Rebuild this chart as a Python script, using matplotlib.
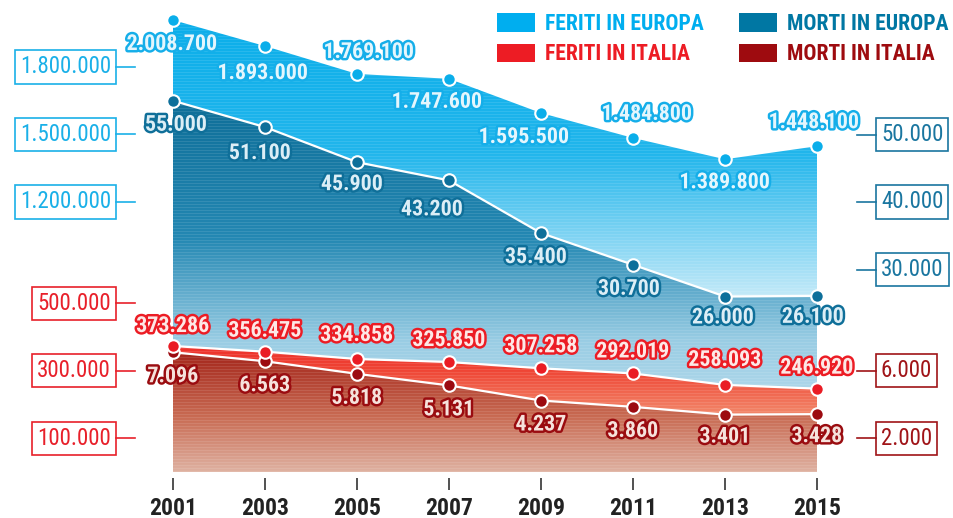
import numpy as np
import matplotlib
matplotlib.use('Agg')
import matplotlib.pyplot as plt
import matplotlib.transforms as mtransforms
import matplotlib.patheffects as pe
from matplotlib.colors import to_rgb
from matplotlib.patches import Polygon, Patch
from matplotlib import font_manager as fm

# data
years = [2001, 2003, 2005, 2007, 2009, 2011, 2013, 2015]
feriti_europa = [2008700, 1893000, 1769100, 1747600, 1595500, 1484800, 1389800, 1448100]
morti_europa = [55000, 51100, 45900, 43200, 35400, 30700, 26000, 26100]
feriti_italia = [373286, 356475, 334858, 325850, 307258, 292019, 258093, 246920]
morti_italia = [7096, 6563, 5818, 5131, 4237, 3860, 3401, 3428]

fe_ticks = [1200000, 1500000, 1800000]
me_ticks = [30000, 40000, 50000]
fi_ticks = [100000, 300000, 500000]
mi_ticks = [2000, 6000]

legend_labels = ['FERITI IN EUROPA', 'FERITI IN ITALIA', 'MORTI IN EUROPA', 'MORTI IN ITALIA']

# label offsets in pixels (dx right, dy down)
fe_off = [(-1, 24), (-2, 27), (12, -22), (-12, 23), (-17, 24), (14, -24), (0, 23), (-3, -24)]
me_off = [(3, 24), (-5, 26), (-5, 22), (-17, 29), (-5, 24), (-4, 24), (-2, 21), (-4, 21)]
fi_off = [(0, -20), (0, -21), (0, -24), (0, -22), (0, -22), (0, -22), (0, -25), (0, -21)]
mi_off = [(0, 24), (0, 24), (0, 24), (0, 24), (0, 24), (0, 24), (0, 22), (0, 22)]

avail = {f.name for f in fm.fontManager.ttflist}
FONT = next((f for f in ['Roboto Condensed', 'Liberation Sans Narrow', 'DejaVu Sans'] if f in avail), 'DejaVu Sans')
plt.rcParams['font.family'] = FONT
plt.rcParams['font.stretch'] = 'condensed'


def fmt(v):
    return f"{v:,}".replace(',', '.')


W, H = 954, 518
fig = plt.figure(figsize=(W / 100, H / 100), dpi=100)
x0, x1, ybase, ytop = 173, 817, 472, 5
axh = ybase - ytop
ax_fe = fig.add_axes([x0 / W, (H - ybase) / H, (x1 - x0) / W, axh / H])
ax_fe.spines['bottom'].set_position(('outward', 4.3))
ax_me = ax_fe.twinx()
ax_fi = ax_fe.twinx()
ax_mi = ax_fe.twinx()

# every scale: one tick step is 67.5 px
step_px = 67.5
lims = {ax_fe: 300000, ax_me: 10000, ax_fi: 200000, ax_mi: 4000}
for ax, step in lims.items():
    ax.set_ylim(0, axh / step_px * step)
    ax.set_yticks([])
    for s in ax.spines.values():
        s.set_visible(False)


def gradient_fill(ax, y, stops):
    top = ax.get_ylim()[1]
    n = axh
    frac = (np.arange(n) + 0.5) / n
    pos = [s[0] for s in stops]
    cols = np.array([to_rgb(s[1]) for s in stops])
    rgb = np.stack([np.interp(frac, pos, cols[:, k]) for k in range(3)], axis=1)
    stripe = ((np.arange(n) % 3) == 0)[:, None] * 0.10
    rgb = rgb + (1 - rgb) * stripe
    img = np.repeat(rgb[:, None, :], 2, axis=1)
    poly = Polygon([(years[0], 0)] + list(zip(years, y)) + [(years[-1], 0)],
                   closed=True, fc='none', ec='none')
    ax.add_patch(poly)
    im = ax.imshow(img, extent=[years[0], years[-1], 0, top], origin='lower',
                   aspect='auto', interpolation='nearest', zorder=1)
    im.set_clip_path(poly)
    ax.set_ylim(0, top)


gradient_fill(ax_fe, feriti_europa, [(0.0, '#dff4fc'), (0.38, '#c2e9f8'), (0.68, '#22b6ec'), (0.98, '#0aaeea')])
gradient_fill(ax_me, morti_europa, [(0.0, '#cce6f2'), (0.28, '#9acde4'), (0.5, '#2488b3'), (0.8, '#0e6e98')])
gradient_fill(ax_fi, feriti_italia, [(0.0, '#f5b09a'), (0.12, '#f28a6c'), (0.22, '#ef4434'), (0.3, '#ec2426')])
gradient_fill(ax_mi, morti_italia, [(0.0, '#dfb2a2'), (0.12, '#c86a52'), (0.26, '#a3241a')])
ax_fe.set_xlim(years[0], years[-1])

# overlay: white edges, markers, labels all on the top axes
series = [
    (ax_fe, feriti_europa, '#0aaeea', '#e4f6fd', '#15aee9', fe_off, False),
    (ax_me, morti_europa, '#0d6f9a', '#dceef6', '#0f6f99', me_off, True),
    (ax_mi, morti_italia, '#9c0a10', '#f6e2dc', '#9a0c10', mi_off, True),
    (ax_fi, feriti_italia, '#ea1c24', '#fde8e6', '#ec1c24', fi_off, True),
]
for src, y, col, tfill, tstroke, offs, edge in series:
    if edge:
        ax_mi.plot(years, y, color='white', lw=1.6, transform=src.transData, zorder=3, clip_on=False)
for i, (src, y, col, tfill, tstroke, offs, edge) in enumerate(series):
    ax_mi.plot(years, y, 'o', ms=9, mfc=col, mec='white', mew=1.5,
               transform=src.transData, zorder=4 + i * 0.1, clip_on=False)
for src, y, col, tfill, tstroke, offs, edge in series:
    for xv, yv, (dx, dy) in zip(years, y, offs):
        ax_mi.annotate(fmt(yv), (xv, yv), xycoords=src.transData,
                       xytext=(dx * 0.72, -dy * 0.72), textcoords='offset points',
                       ha='center', va='center', fontsize=15.8, fontweight='bold',
                       color=tfill, zorder=6, annotation_clip=False,
                       path_effects=[pe.withStroke(linewidth=3.5, foreground=tstroke)])


# axis boxes
def axis_boxes(src, ticks, color, side):
    tr = mtransforms.blended_transform_factory(fig.transFigure, src.transData)
    for v in ticks:
        if side == 'left':
            tx, ha, lx = 111 / W, 'right', [116 / W, 135 / W]
        else:
            tx, ha, lx = 881 / W, 'left', [857 / W, 876 / W]
        ax_mi.text(tx, v, fmt(v), transform=tr, ha=ha, va='center', fontsize=16.5,
                   fontstretch='normal', color=color, zorder=7, clip_on=False,
                   bbox=dict(boxstyle='square,pad=0.22', fc='white', ec=color, lw=1.2))
        ax_mi.plot(lx, [v, v], transform=tr, color=color, lw=1.2, clip_on=False, zorder=7)


axis_boxes(ax_fe, fe_ticks, '#1ab0e8', 'left')
axis_boxes(ax_fi, fi_ticks, '#e8202a', 'left')
axis_boxes(ax_me, me_ticks, '#1a76a0', 'right')
axis_boxes(ax_mi, mi_ticks, '#a01418', 'right')

# years
ax_fe.set_xticks(years)
ax_fe.tick_params(axis='x', length=8.6, width=1.2, color='#333333', pad=5,
                  labelsize=17, labelcolor='#222222')
ax_fe.set_xticklabels([str(y) for y in years], fontweight='bold')

# legend
leg_colors = ['#00aeef', '#ed1c24', '#0077a3', '#9e0b0f']
handles = [Patch(fc=c, ec='none') for c in leg_colors]
fig.legend(handles, legend_labels, loc='upper left', bbox_to_anchor=(497 / W, 1 - 13 / H),
           ncol=2, frameon=False, prop=dict(size=15.6, weight='bold'),
           labelcolor=leg_colors, handlelength=1.75, handleheight=0.92,
           handletextpad=0.46, labelspacing=0.38, columnspacing=1.62,
           borderpad=0, borderaxespad=0)

fig.savefig('out.png', dpi=100)
